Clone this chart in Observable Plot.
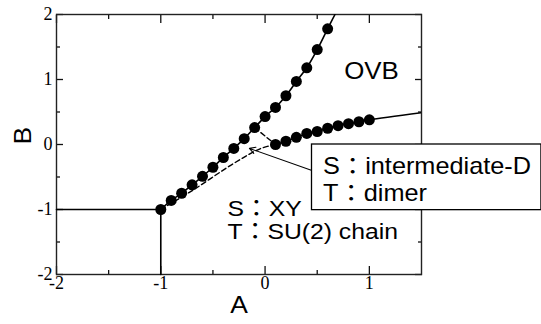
<!DOCTYPE html>
<html>
<head>
<meta charset="utf-8">
<script src="https://cdn.jsdelivr.net/npm/d3@7"></script>
<script src="https://cdn.jsdelivr.net/npm/@observablehq/plot@0.6"></script>
<style>
  html, body { margin: 0; padding: 0; background: #fff; }
</style>
</head>
<body>
<div id="chart"></div>
<script>
// Phase boundary with dots (upper branch)
const upperA = [-1.0, -0.9, -0.8, -0.7, -0.6, -0.5, -0.4, -0.3, -0.2, -0.1, 0.0, 0.1, 0.2, 0.3, 0.4, 0.5, 0.6];
const upperB = [-1.0, -0.86, -0.75, -0.62, -0.49, -0.35, -0.20, -0.06, 0.09, 0.26, 0.43, 0.57, 0.75, 0.97, 1.18, 1.46, 1.78];
// where the upper boundary leaves the top of the frame
const upperEnd = {A: 0.67, B: 2.0};

// Lower branch with dots
const lowerA = [0.1, 0.2, 0.3, 0.4, 0.5, 0.6, 0.7, 0.8, 0.9, 1.0];
const lowerB = [0.0, 0.05, 0.11, 0.17, 0.20, 0.25, 0.29, 0.32, 0.35, 0.38];
const lowerEnd = {A: 1.5, B: 0.49};

// Dashed boundaries
const dashA1 = [-1.0, -0.68, -0.3, -0.04, 0.1];
const dashB1 = [-1.0, -0.69, -0.29, -0.06, 0.0];
const dashA2 = [-0.1, 0.1];
const dashB2 = [0.26, 0.0];

// Solid boundaries at A = -1 and B = -1
const horizA = [-2, -1];
const horizB = [-1, -1];
const vertA = [-1, -1];
const vertB = [-1, -2];

// Axes
const majorTicks = [-2, -1, 0, 1];
const minorTicksA = [-1.5, -0.5, 0.5];
const majorTicksB = [-2, -1, 0, 1, 2];
const minorTicksB = [-1.5, -0.5, 0.5, 1.5];

// Labels
const phaseLabel = "OVB";
const lowerLabels = ["S：XY", "T：SU(2) chain"];
const boxLabels = ["S：intermediate-D", "T：dimer"];

const zip = (A, B) => A.map((a, i) => ({A: a, B: B[i]}));
const upper = zip(upperA, upperB);
const lower = zip(lowerA, lowerB);

const serif = "'Liberation Serif', 'Times New Roman', serif";
const sans = "'Liberation Sans', 'Noto Sans CJK JP', sans-serif";

const tickStyle = {stroke: "#111", strokeWidth: 1.3, tickFormat: () => ""};

const chart = Plot.plot({
  width: 541,
  height: 324,
  marginLeft: 56,
  marginRight: 120,
  marginTop: 14,
  marginBottom: 50,
  x: {domain: [-2, 1.5]},
  y: {domain: [-2, 2]},
  style: {background: "#fff", overflow: "visible"},
  marks: [
    // inward ticks on all four sides
    Plot.axisX({anchor: "bottom", ticks: majorTicks, tickSize: -8, ...tickStyle}),
    Plot.axisX({anchor: "top", ticks: majorTicks, tickSize: -8, ...tickStyle}),
    Plot.axisX({anchor: "bottom", ticks: minorTicksA, tickSize: -4, ...tickStyle}),
    Plot.axisX({anchor: "top", ticks: minorTicksA, tickSize: -4, ...tickStyle}),
    Plot.axisY({anchor: "left", ticks: majorTicksB, tickSize: -7, ...tickStyle}),
    Plot.axisY({anchor: "right", ticks: majorTicksB, tickSize: -7, ...tickStyle}),
    Plot.axisY({anchor: "left", ticks: minorTicksB, tickSize: -4, ...tickStyle}),
    Plot.axisY({anchor: "right", ticks: minorTicksB, tickSize: -4, ...tickStyle}),
    // tick labels
    Plot.text(majorTicks, {x: d => d, frameAnchor: "bottom", lineAnchor: "top", dy: 2, text: d => String(d),
      fontFamily: serif, fontSize: 18, fill: "#000"}),
    Plot.text(majorTicksB, {y: d => d, frameAnchor: "left", textAnchor: "end", dx: -4, text: d => String(d),
      fontFamily: serif, fontSize: 18, fill: "#000"}),
    Plot.frame({stroke: "#222", strokeWidth: 1.4}),

    // solid boundaries
    Plot.line(zip(horizA, horizB), {x: "A", y: "B", stroke: "#000", strokeWidth: 1.6}),
    Plot.line(zip(vertA, vertB), {x: "A", y: "B", stroke: "#000", strokeWidth: 1.6}),
    Plot.line([...upper, upperEnd], {x: "A", y: "B", stroke: "#000", strokeWidth: 1.6, curve: "catmull-rom", clip: true}),
    Plot.line([...lower, lowerEnd], {x: "A", y: "B", stroke: "#000", strokeWidth: 1.6, curve: "catmull-rom", clip: true}),

    // dashed boundaries
    Plot.line(zip(dashA1, dashB1), {x: "A", y: "B", stroke: "#000", strokeWidth: 1.4, strokeDasharray: "5,3", curve: "catmull-rom"}),
    Plot.line(zip(dashA2, dashB2), {x: "A", y: "B", stroke: "#000", strokeWidth: 1.4, strokeDasharray: "5,3"}),

    // data points
    Plot.dot(upper, {x: "A", y: "B", r: 5.5, fill: "#000", stroke: "none"}),
    Plot.dot(lower, {x: "A", y: "B", r: 5.5, fill: "#000", stroke: "none"}),

    // phase labels
    Plot.text([phaseLabel], {x: 1.02, y: 1.13, text: d => d, fontFamily: sans, fontSize: 23.5, fill: "#000"}),
    Plot.text([lowerLabels[0]], {x: -0.36, y: -0.99, text: d => d, textAnchor: "start", fontFamily: sans, fontSize: 22.5, fill: "#000"}),
    Plot.text([lowerLabels[1]], {x: -0.36, y: -1.35, text: d => d, textAnchor: "start", fontFamily: sans, fontSize: 22.5, fill: "#000"}),

    // callout box with arrow
    Plot.arrow([{x1: 0.45, y1: -0.40, x2: -0.15, y2: -0.06}], {
      x1: "x1", y1: "y1", x2: "x2", y2: "y2",
      stroke: "#000", strokeWidth: 1.1, headLength: 9, insetEnd: 0, insetStart: 0
    }),
    Plot.rect([{x1: 0.45, x2: 2.65, y1: -1.01, y2: 0.0}], {
      x1: "x1", x2: "x2", y1: "y1", y2: "y2",
      fill: "#fff", stroke: "#000", strokeWidth: 1.3
    }),
    Plot.text([boxLabels[0]], {x: 0.556, y: -0.34, text: d => d, textAnchor: "start", fontFamily: sans, fontSize: 23, fill: "#000"}),
    Plot.text([boxLabels[1]], {x: 0.556, y: -0.76, text: d => d, textAnchor: "start", fontFamily: sans, fontSize: 23, fill: "#000"}),

    // axis titles
    Plot.text(["A"], {frameAnchor: "bottom", dy: 38, text: d => d, fontFamily: sans, fontSize: 24, fill: "#000"}),
    Plot.text(["B"], {frameAnchor: "left", dx: -33, rotate: -90, text: d => d, fontFamily: sans, fontSize: 24, fill: "#000"})
  ]
});

// the sans-serif labels are set slightly wide
d3.select(chart).selectAll("g[font-family*='Liberation Sans'] text").each(function() {
  const t = this.getAttribute("transform");
  if (t) this.setAttribute("transform", t + " scale(1.1,1)");
});

document.getElementById("chart").appendChild(chart);
</script>
</body>
</html>
